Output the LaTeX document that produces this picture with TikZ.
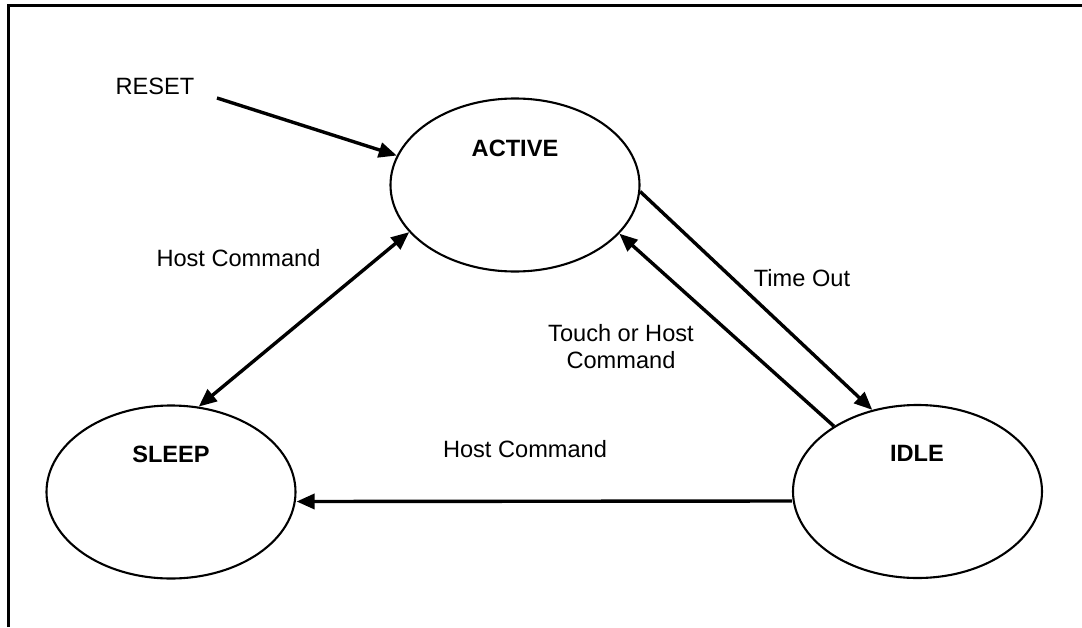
\documentclass[tikz,border=0pt]{standalone}
\usepackage{fontspec}
\setmainfont{Liberation Sans}
\usetikzlibrary{shapes.geometric,arrows.meta}
\begin{document}
\begin{tikzpicture}[x=1pt,y=-1pt,
  state/.style={ellipse,draw,line width=2.1pt,minimum width=249pt,minimum height=173pt,inner sep=0pt},
  stname/.style={font=\fontsize{23.6}{28}\selectfont\bfseries,inner sep=0pt,anchor=center},
  lbl/.style={font=\fontsize{23.6}{28}\selectfont,inner sep=0pt,anchor=center,align=center},
  conn/.style={line width=3.4pt,-{Triangle[length=18pt,width=15pt]}},
  dconn/.style={line width=3.4pt,{Triangle[length=18pt,width=15pt]}-{Triangle[length=18pt,width=15pt]}}]
\useasboundingbox (0,0) rectangle (1082,627);
\draw[line width=3pt] (8,627) -- (8,5) -- (1082,5);

\node[state] (active) at (515,185) {};
\node[state] (sleep) at (171,492) {};
\node[state] (idle) at (917.5,491.5) {};

\node[stname] (activetxt) at (515,148) {ACTIVE};
\node[stname] (sleeptxt) at (171,454) {SLEEP};
\node[stname] (idletxt) at (917,453) {IDLE};

\node[lbl] (reset) at (155,86) {RESET};
\coordinate (resetstart) at (217,98);
\draw[conn] (resetstart) -- (active.166);

\node[lbl] (hc1) at (238.5,258) {Host Command};
\draw[dconn] (active.204.6) -- (sleep.72.8);

\node[lbl] (timeout) at (802,278) {Time Out};
\draw[conn] (active.-3.7) -- (idle.119.5);

\node[lbl] (touch) at (621,347) {Touch or Host\\[-1pt]Command};
\draw[conn] (idle.142.1) -- (active.-25);

\node[lbl] (hc2) at (525,449) {Host Command};
\draw[conn] ([yshift=-9.5pt]idle.west) -- ([yshift=-9.5pt]sleep.east);
\end{tikzpicture}
\end{document}
